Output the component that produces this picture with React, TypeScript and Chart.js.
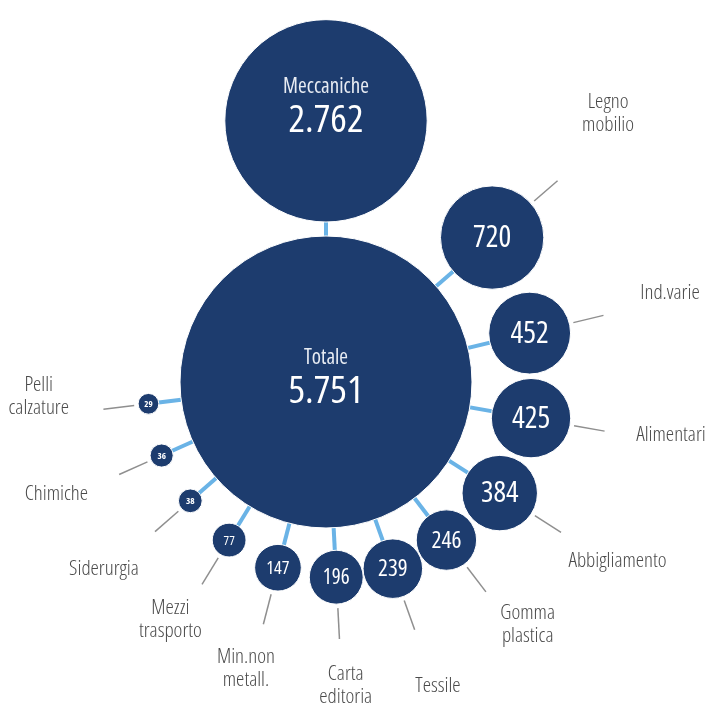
import React, { useEffect, useRef } from 'react';
import { Chart, registerables } from 'chart.js';
Chart.register(...registerables);

// ---- data ----
const TOTAL_LABEL = 'Totale';
const TOTAL_VALUE = 5751;
const TOP_LABEL = 'Meccaniche';
const TOP_VALUE = 2762;
const CATEGORIES: string[][] = [
  ['Legno', 'mobilio'],
  ['Ind.varie'],
  ['Alimentari'],
  ['Abbigliamento'],
  ['Gomma', 'plastica'],
  ['Tessile'],
  ['Carta', 'editoria'],
  ['Min.non', 'metall.'],
  ['Mezzi', 'trasporto'],
  ['Siderurgia'],
  ['Chimiche'],
  ['Pelli', 'calzature'],
];
const VALUES = [720, 452, 425, 384, 246, 239, 196, 147, 77, 38, 36, 29];

// ---- layout (degrees, 0 = right, clockwise) ----
const ANGLES = [-41, -13.5, 10, 32.6, 52.7, 70.3, 87, 104.5, 121.5, 138.8, 155.9, 173];
const LABEL_ANGLES = [-47, -16, 7, 30, 46, 69, 85, 107.6, 126.4, 141.7, 160, 184];
const LABEL_DIST = [170, 146, 141, 136, 117, 126, 109, 106, 99, 110, 112, 110];
const W = 708;
const H = 707;
const CX = 326;
const CY = 382;
const R_TOTAL = 146;
const GAP = 22.5;
const TOP_GAP = 14;

const BUBBLE = '#1d3c6e';
const LINK = '#6ab3e6';
const LEADER = '#8f8f8f';
const LABEL_COLOR = '#4a4a4a';
const FONT = "'Open Sans', 'Liberation Sans Narrow', 'DejaVu Sans Condensed', sans-serif";

const fmt = (v: number) => String(v).replace(/\B(?=(\d{3})+(?!\d))/g, '.');
const radiusOf = (v: number) => R_TOTAL * Math.sqrt(v / TOTAL_VALUE);
const rad = (d: number) => (d * Math.PI) / 180;

export default function App() {
  const ref = useRef<HTMLCanvasElement | null>(null);
  useEffect(() => {
    if (!ref.current) return;
    const rTop = radiusOf(TOP_VALUE);
    const points: any[] = [{ x: 0, y: 0, r: R_TOTAL }];
    points.push({ x: 0, y: -(R_TOTAL + rTop + TOP_GAP), r: rTop });
    VALUES.forEach((v, i) => {
      const r = radiusOf(v);
      const d = R_TOTAL + r + GAP;
      points.push({ x: d * Math.cos(rad(ANGLES[i])), y: d * Math.sin(rad(ANGLES[i])), r });
    });

    const setFont = (ctx: CanvasRenderingContext2D, weight: number, size: number) => {
      ctx.font = `${weight} ${size}px ${FONT}`;
      try { (ctx as any).fontStretch = 'condensed'; } catch (e) {}
    };

    const plugin = {
      id: 'bubbleDecor',
      beforeDatasetsDraw(chart: any) {
        const ctx: CanvasRenderingContext2D = chart.ctx;
        const els = chart.getDatasetMeta(0).data;
        const c = els[0];
        ctx.save();
        ctx.strokeStyle = LINK;
        ctx.lineWidth = 4;
        for (let i = 1; i < els.length; i++) {
          ctx.beginPath();
          ctx.moveTo(c.x, c.y);
          ctx.lineTo(els[i].x, els[i].y);
          ctx.stroke();
        }
        ctx.strokeStyle = LEADER;
        ctx.lineWidth = 1.5;
        VALUES.forEach((v, i) => {
          const e = els[i + 2];
          const r = points[i + 2].r;
          const a = Math.atan2(e.y - c.y, e.x - c.x);
          ctx.beginPath();
          ctx.moveTo(e.x + (r + 4) * Math.cos(a), e.y + (r + 4) * Math.sin(a));
          ctx.lineTo(e.x + (r + 35) * Math.cos(a), e.y + (r + 35) * Math.sin(a));
          ctx.stroke();
        });
        ctx.restore();
      },
      afterDatasetsDraw(chart: any) {
        const ctx: CanvasRenderingContext2D = chart.ctx;
        const els = chart.getDatasetMeta(0).data;
        ctx.save();
        ctx.textAlign = 'center';
        ctx.textBaseline = 'middle';
        const big: [any, string, number, number, number][] = [
          [els[0], TOTAL_LABEL, TOTAL_VALUE, -24, 10],
          [els[1], TOP_LABEL, TOP_VALUE, -34, 0],
        ];
        big.forEach(([e, label, v, dl, dn]) => {
          setFont(ctx, 400, 21);
          ctx.fillStyle = '#e8ecf3';
          ctx.fillText(label, e.x, e.y + dl);
          setFont(ctx, 400, 39);
          ctx.fillStyle = '#ffffff';
          ctx.fillText(fmt(v), e.x, e.y + dn);
        });
        VALUES.forEach((v, i) => {
          const e = els[i + 2];
          const r = points[i + 2].r;
          const size = Math.max(9, Math.min(30, r * 0.78));
          setFont(ctx, r < 14 ? 700 : 400, size);
          ctx.fillStyle = '#ffffff';
          ctx.fillText(fmt(v), e.x, e.y + 1);
          const lx = e.x + LABEL_DIST[i] * Math.cos(rad(LABEL_ANGLES[i]));
          const ly = e.y + LABEL_DIST[i] * Math.sin(rad(LABEL_ANGLES[i]));
          setFont(ctx, 300, 21);
          ctx.fillStyle = LABEL_COLOR;
          const lines = CATEGORIES[i];
          const lh = 23;
          lines.forEach((t, k) => {
            ctx.fillText(t, lx, ly + (k - (lines.length - 1) / 2) * lh);
          });
        });
        ctx.restore();
      },
    };

    const chart = new Chart(ref.current, {
      type: 'bubble',
      data: {
        datasets: [
          {
            data: points,
            backgroundColor: BUBBLE,
            borderColor: '#ffffff',
            borderWidth: 1,
            hoverRadius: 0,
            clip: false as any,
          } as any,
        ],
      },
      options: {
        responsive: false,
        animation: false,
        events: [],
        layout: { padding: 0, autoPadding: false } as any,
        plugins: { legend: { display: false }, tooltip: { enabled: false } },
        scales: {
          x: { type: 'linear', display: false, min: -CX, max: W - CX },
          y: { type: 'linear', display: false, min: -CY, max: H - CY, reverse: true },
        },
      },
      plugins: [plugin],
    });
    return () => chart.destroy();
  }, []);
  return (
    <div style={{ position: 'absolute', left: 0, top: 0, width: W, height: H, background: '#fff' }}>
      <canvas ref={ref} width={W} height={H} style={{ display: 'block' }} />
    </div>
  );
}
